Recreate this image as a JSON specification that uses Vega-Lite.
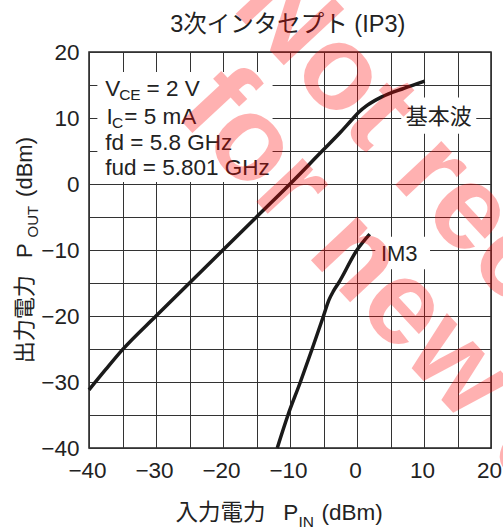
{
  "$schema": "https://vega.github.io/schema/vega-lite/v6.json",
  "width": 402,
  "height": 396,
  "autosize": {"type": "none"},
  "padding": {"left": 89, "top": 52, "right": 12, "bottom": 82},
  "background": "white",
  "config": {
    "view": {"stroke": "#222", "strokeWidth": 1.5},
    "font": "Liberation Sans, Noto Sans CJK JP"
  },
  "datasets": {
    "curves": [
      {"s": "基本波", "x": -40, "y": -31.2},
      {"s": "基本波", "x": -37.5, "y": -28.1},
      {"s": "基本波", "x": -35, "y": -25.1},
      {"s": "基本波", "x": -30, "y": -20},
      {"s": "基本波", "x": -25, "y": -15},
      {"s": "基本波", "x": -20, "y": -10},
      {"s": "基本波", "x": -15, "y": -5},
      {"s": "基本波", "x": -10, "y": 0},
      {"s": "基本波", "x": -5.2, "y": 5},
      {"s": "基本波", "x": -2.5, "y": 7.8},
      {"s": "基本波", "x": -0.8, "y": 9.7},
      {"s": "基本波", "x": 0.3, "y": 10.9},
      {"s": "基本波", "x": 1.5, "y": 11.9},
      {"s": "基本波", "x": 3.7, "y": 13.2},
      {"s": "基本波", "x": 7.0, "y": 14.5},
      {"s": "基本波", "x": 10.1, "y": 15.6},
      {"s": "IM3", "x": -11.9, "y": -40},
      {"s": "IM3", "x": -10.3, "y": -35},
      {"s": "IM3", "x": -8.45, "y": -30},
      {"s": "IM3", "x": -6.7, "y": -25},
      {"s": "IM3", "x": -5.0, "y": -20},
      {"s": "IM3", "x": -4.2, "y": -17.6},
      {"s": "IM3", "x": -3.5, "y": -16.2},
      {"s": "IM3", "x": -2.75, "y": -15},
      {"s": "IM3", "x": 0, "y": -10},
      {"s": "IM3", "x": 1.9, "y": -7.6}
    ],
    "masks": [
      {"x": -38.75, "x2": -12.6, "y": 0.3, "y2": 16.97},
      {"x": 6.6, "x2": 17.8, "y": 7.6, "y2": 13.1},
      {"x": 2.73, "x2": 10.9, "y": -12.9, "y2": -8.0}
    ],
    "labels": [
      {"role": "title", "t": "3次インタセプト (IP3)", "x": -10.33, "y": 23.08},
      {"role": "main", "t": "V", "x": -37.57, "y": 13.37},
      {"role": "sub", "t": "CE", "x": -35.5, "y": 12.76},
      {"role": "main", "t": "= 2 V", "x": -31.4, "y": 13.37},
      {"role": "main", "t": "I", "x": -37.4, "y": 9.12},
      {"role": "sub", "t": "C", "x": -36.55, "y": 8.51},
      {"role": "main", "t": "= 5 mA", "x": -34.73, "y": 9.12},
      {"role": "main", "t": "fd = 5.8 GHz", "x": -37.57, "y": 5.17},
      {"role": "main", "t": "fud = 5.801 GHz", "x": -37.57, "y": 1.38},
      {"role": "main", "t": "入力電力", "x": -27.1, "y": -50.9},
      {"role": "main", "t": "P", "x": -11.0, "y": -50.9},
      {"role": "sub", "t": "IN", "x": -8.75, "y": -51.9},
      {"role": "main", "t": "(dBm)", "x": -5.3, "y": -50.9},
      {"role": "center", "t": "基本波", "x": 12.2, "y": 10.18},
      {"role": "center", "t": "IM3", "x": 6.31, "y": -10.68},
      {"role": "ymain", "t": "出力電力", "x": -48.46, "y": -27.15},
      {"role": "ymain", "t": "P", "x": -48.46, "y": -11.2},
      {"role": "ysub", "t": "OUT", "x": -47.6, "y": -8.1},
      {"role": "ymain", "t": "(dBm)", "x": -48.46, "y": -1.96}
    ],
    "watermark": [
      {"t": "Not recommended", "x": -18.9, "y": 26.7},
      {"t": "for new design", "x": -27.4, "y": 10.8}
    ]
  },
  "encoding": {
    "x": {
      "field": "x",
      "type": "quantitative",
      "scale": {"domain": [-40, 20], "nice": false, "zero": false},
      "axis": {
        "title": null,
        "values": [-40, -35, -30, -25, -20, -15, -10, -5, 0, 5, 10, 15, 20],
        "labelExpr": "datum.value % 10 === 0 ? datum.label : ''",
        "grid": true,
        "gridColor": "#333",
        "gridWidth": 1,
        "gridOpacity": 1,
        "domain": false,
        "ticks": false,
        "tickSize": 0,
        "labelFontSize": 22.5,
        "labelFont": "Liberation Sans",
        "labelColor": "#222",
        "labelPadding": 11,
        "labelOffset": -2,
        "labelFlush": false,
        "labelOverlap": false,
        "labelBound": false
      }
    },
    "y": {
      "field": "y",
      "type": "quantitative",
      "scale": {"domain": [-40, 20], "nice": false, "zero": false},
      "axis": {
        "title": null,
        "values": [-40, -35, -30, -25, -20, -15, -10, -5, 0, 5, 10, 15, 20],
        "labelExpr": "datum.value % 10 === 0 ? datum.label : ''",
        "grid": true,
        "gridColor": "#333",
        "gridWidth": 1,
        "gridOpacity": 1,
        "domain": false,
        "ticks": false,
        "tickSize": 0,
        "labelFontSize": 22.5,
        "labelFont": "Liberation Sans",
        "labelColor": "#222",
        "labelPadding": 10,
        "labelFlush": false,
        "labelOverlap": false,
        "labelBound": false
      }
    }
  },
  "layer": [
    {
      "data": {"name": "masks"},
      "mark": {"type": "rect", "fill": "white", "stroke": null},
      "encoding": {
        "x2": {"field": "x2"},
        "y2": {"field": "y2"}
      }
    },
    {
      "data": {"name": "curves"},
      "mark": {"type": "line", "stroke": "#1a1a1a", "strokeWidth": 3.5, "interpolate": "monotone", "clip": false},
      "encoding": {
        "detail": {"field": "s"}
      }
    },
    {
      "data": {"name": "labels"},
      "transform": [{"filter": "datum.role === 'title'"}],
      "mark": {"type": "text", "align": "center", "baseline": "alphabetic", "fontSize": 23.5, "color": "#222", "font": "Liberation Sans, Noto Sans CJK JP"},
      "encoding": {"text": {"field": "t"}}
    },
    {
      "data": {"name": "labels"},
      "transform": [{"filter": "datum.role === 'main'"}],
      "mark": {"type": "text", "align": "left", "baseline": "alphabetic", "fontSize": 22.5, "color": "#222", "font": "Liberation Sans, Noto Sans CJK JP"},
      "encoding": {"text": {"field": "t"}}
    },
    {
      "data": {"name": "labels"},
      "transform": [{"filter": "datum.role === 'sub'"}],
      "mark": {"type": "text", "align": "left", "baseline": "alphabetic", "fontSize": 15.5, "color": "#222", "font": "Liberation Sans"},
      "encoding": {"text": {"field": "t"}}
    },
    {
      "data": {"name": "labels"},
      "transform": [{"filter": "datum.role === 'center'"}],
      "mark": {"type": "text", "align": "center", "baseline": "middle", "fontSize": 22, "color": "#222", "font": "Liberation Sans, Noto Sans CJK JP"},
      "encoding": {"text": {"field": "t"}}
    },
    {
      "data": {"name": "labels"},
      "transform": [{"filter": "datum.role === 'ymain'"}],
      "mark": {"type": "text", "align": "left", "baseline": "alphabetic", "angle": 270, "fontSize": 22, "color": "#222", "font": "Liberation Sans, Noto Sans CJK JP"},
      "encoding": {"text": {"field": "t"}}
    },
    {
      "data": {"name": "labels"},
      "transform": [{"filter": "datum.role === 'ysub'"}],
      "mark": {"type": "text", "align": "left", "baseline": "alphabetic", "angle": 270, "fontSize": 15, "color": "#222", "font": "Liberation Sans"},
      "encoding": {"text": {"field": "t"}}
    },
    {
      "data": {"name": "watermark"},
      "mark": {"type": "text", "align": "left", "baseline": "alphabetic", "angle": 47, "fontSize": 120, "fontWeight": "bold", "color": "#ff0000", "opacity": 0.3, "font": "Liberation Sans"},
      "encoding": {"text": {"field": "t"}}
    }
  ]
}
